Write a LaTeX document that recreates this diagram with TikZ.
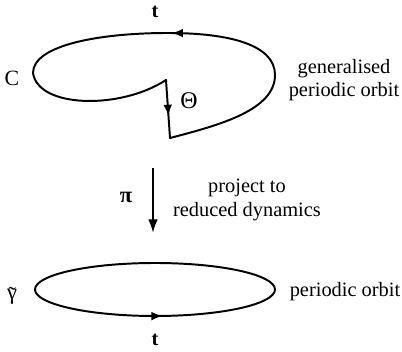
\documentclass[tikz,border=0pt]{standalone}
\usepackage{fontspec}
\setmainfont{Liberation Serif}
\usetikzlibrary{arrows.meta,decorations.markings}
\tikzset{
  orbit/.style={line width=1.4pt, line join=round, line cap=round},
  tipmark/.style={postaction={decorate}, decoration={markings,
    mark=at position #1 with {\arrow{Latex[length=2.8mm,width=2.2mm]}}}},
  maparrow/.style={-{Latex[length=3.4mm,width=2.4mm]}, line width=1.5pt},
  lab/.style={font=\fontsize{14.5}{16.5}\selectfont, inner sep=1pt, align=center},
}

\begin{document}
\begin{tikzpicture}[x=0.025cm, y=-0.025cm]
    \useasboundingbox (0,0) rectangle (402,352);
    % generalised periodic orbit
    \coordinate (gright) at (275,75);
    \coordinate (gtop) at (168,33);
    \coordinate (gleft) at (33,73);
    \coordinate (ginner) at (166,80);
    \coordinate (gfoot) at (170,138);
    \draw[orbit, tipmark=0.97] (gright) .. controls (275,45) and (230,33) .. (gtop);
    \draw[orbit] (gtop) .. controls (100,33) and (33,45) .. (gleft)
      .. controls (38,108) and (120,110) .. (ginner);
    \draw[orbit, tipmark=0.62] (ginner) -- (gfoot);
    \draw[orbit] (gfoot) .. controls (220,125) and (275,110) .. (gright);
    \node[lab] (ttop) at (155,12) {\textbf{t}};
    \node[lab, font=\fontsize{15.5}{17}\selectfont] (clab) at (12,78) {C};
    \node[lab, font=\fontsize{17}{19}\selectfont] (theta) at (189,101) {Θ};
    \node[lab] (gpo) at (344,80) {generalised\\periodic orbit};
    % projection
    \coordinate (projtop) at (153,168);
    \coordinate (projbot) at (153,233);
    \draw[maparrow] (projtop) -- (projbot);
    \node[lab, font=\fontsize{16}{18}\selectfont\bfseries] (pi) at (126,197) {π};
    \node[lab] (proj) at (247,200) {project to\\reduced dynamics};
    % periodic orbit
    \coordinate (pcentre) at (155,289.5);
    \draw[orbit, tipmark=0.265] (pcentre) ++(-120,0) arc[start angle=180, end angle=-180,
      x radius=120, y radius=26.5];
    \node[lab, font=\fontsize{16}{18}\selectfont] (gam) at (12,296)
      {\ooalign{γ\cr\hidewidth\raisebox{-0.12em}{˜}\hidewidth\cr}};
    \node[lab] (po) at (345,292) {periodic orbit};
    \node[lab] (tbot) at (155,340) {\textbf{t}};
\end{tikzpicture}
\end{document}
